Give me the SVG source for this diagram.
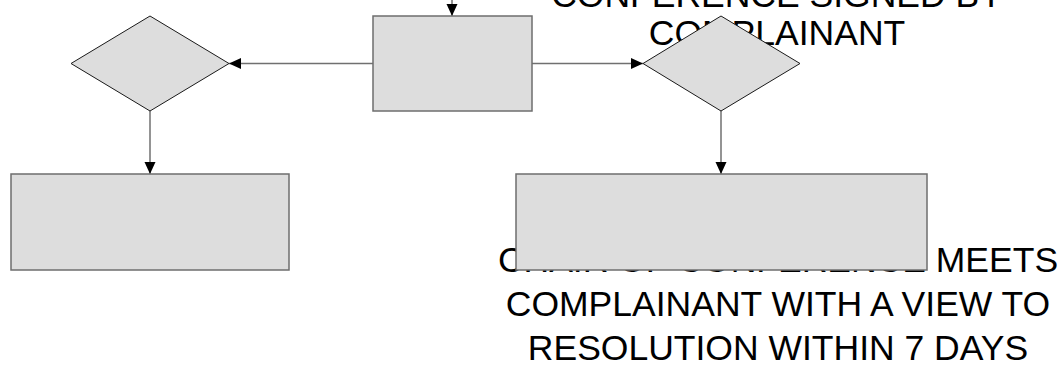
<svg xmlns="http://www.w3.org/2000/svg" width="1061" height="370" viewBox="0 0 1061 370">
<style>
.bg{fill:#ffffff}
.box{fill:#dddddd;stroke:#6e6e6e;stroke-width:1.5}
.dia{fill:#dddddd;stroke:#1a1a1a;stroke-width:1}
.con{fill:none;stroke:#707070;stroke-width:1.5}
.lbl{font-family:"Liberation Sans",Arial,sans-serif;font-size:35.5px;fill:#000000;text-anchor:middle}
</style>
<defs>
<marker id="arr" markerUnits="userSpaceOnUse" markerWidth="12" markerHeight="12" viewBox="0 0 12 12" refX="12" refY="6" orient="auto">
<path d="M0,0.5 L12,6 L0,11.5 Z" fill="#000000"/>
</marker>
</defs>
<rect class="bg" x="0" y="0" width="1061" height="370"/>
<g id="labels">
<text class="lbl" x="777" y="7">CONFERENCE SIGNED BY</text>
<text class="lbl" x="777" y="45">COMPLAINANT</text>
<text class="lbl" x="778" y="271.5">CHAIR OF CONFERENCE MEETS</text>
<text class="lbl" x="778" y="315.5">COMPLAINANT WITH A VIEW TO</text>
<text class="lbl" x="778" y="359.5">RESOLUTION WITHIN 7 DAYS</text>
</g>
<g id="connectors">
<line class="con" x1="452" y1="0" x2="452" y2="16" marker-end="url(#arr)"/>
<line class="con" x1="373" y1="63.5" x2="229" y2="63.5" marker-end="url(#arr)"/>
<line class="con" x1="532" y1="63.5" x2="643" y2="63.5" marker-end="url(#arr)"/>
<line class="con" x1="150" y1="111" x2="150" y2="174" marker-end="url(#arr)"/>
<line class="con" x1="721" y1="111" x2="721" y2="174" marker-end="url(#arr)"/>
</g>
<g id="node-center">
<rect class="box" x="373" y="16" width="159" height="95"/>
</g>
<g id="node-left-decision">
<polygon class="dia" points="150,16 229,63.5 150,111 71,63.5"/>
</g>
<g id="node-left-box">
<rect class="box" x="11" y="174" width="278" height="96"/>
</g>
<g id="node-right-decision">
<polygon class="dia" points="721,16 800,63.5 721,111 643,63.5"/>
</g>
<g id="node-right-box">
<rect class="box" x="516" y="174" width="411" height="96"/>
</g>
</svg>
